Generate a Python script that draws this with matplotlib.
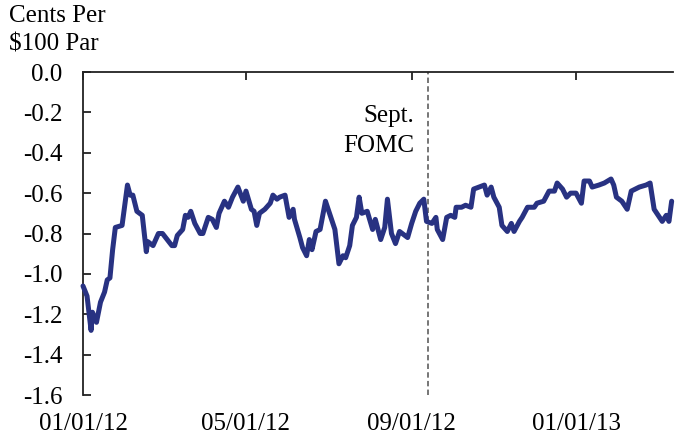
import numpy as np
import matplotlib
matplotlib.use('Agg')
import matplotlib.pyplot as plt

plt.rcParams['font.family'] = ['Liberation Serif', 'DejaVu Serif']
plt.rcParams['text.parse_math'] = False

start_date = '2012-01-01'
day_offsets = [0, 3, 6, 7, 10, 13, 16, 18, 20, 22, 24, 29, 33, 35, 37, 40, 44, 47, 48, 52,
               56, 59, 66, 68, 70, 74, 76, 78, 80, 83, 87, 89, 93, 96, 99, 101, 105, 108, 111, 115,
               119, 121, 125, 127, 129, 131, 135, 139, 141, 144, 146, 150, 153, 156, 157, 161, 163, 166, 168, 170,
               173, 176, 180, 183, 187, 190, 193, 195, 198, 200, 203, 205, 207, 211, 215, 217, 221, 224, 226, 229,
               232, 235, 239, 241, 244, 247, 250, 253, 255, 259, 262, 263, 267, 270, 273, 276, 277, 281, 284, 288,
               290, 294, 298, 300, 303, 305, 309, 311, 315, 318, 320, 324, 326, 330, 335, 337, 342, 346, 350, 352,
               356, 359, 362, 366, 370, 372, 376, 378, 383, 387, 392, 394, 396, 400, 404, 407, 413, 418, 421, 424,
               427, 430, 433, 435, 437]
values = [-1.06, -1.11, -1.28, -1.19, -1.24, -1.14, -1.09, -1.03, -1.02, -0.88, -0.77, -0.76, -0.56, -0.61, -0.61, -0.69, -0.71, -0.89, -0.84, -0.86,
          -0.80, -0.80, -0.86, -0.86, -0.81, -0.78, -0.71, -0.72, -0.69, -0.75, -0.80, -0.80, -0.72, -0.73, -0.77, -0.70, -0.64, -0.67, -0.62, -0.57,
          -0.64, -0.59, -0.68, -0.69, -0.76, -0.70, -0.68, -0.65, -0.61, -0.63, -0.62, -0.61, -0.72, -0.68, -0.73, -0.82, -0.87, -0.91, -0.83, -0.88,
          -0.79, -0.78, -0.64, -0.70, -0.78, -0.95, -0.91, -0.92, -0.86, -0.76, -0.72, -0.62, -0.70, -0.69, -0.78, -0.73, -0.83, -0.77, -0.63, -0.80,
          -0.85, -0.79, -0.81, -0.82, -0.75, -0.69, -0.65, -0.63, -0.74, -0.75, -0.72, -0.78, -0.83, -0.72, -0.71, -0.72, -0.67, -0.67, -0.66, -0.67,
          -0.58, -0.57, -0.56, -0.61, -0.57, -0.62, -0.67, -0.76, -0.79, -0.75, -0.79, -0.74, -0.72, -0.67, -0.67, -0.65, -0.64, -0.59, -0.59, -0.55,
          -0.58, -0.62, -0.60, -0.60, -0.65, -0.54, -0.54, -0.57, -0.56, -0.55, -0.53, -0.56, -0.62, -0.64, -0.68, -0.59, -0.57, -0.56, -0.55, -0.68,
          -0.71, -0.74, -0.71, -0.74, -0.64]
fomc_date = '2012-09-13'
x_end_offset = 438
xtick_dates = ['2012-01-01', '2012-05-01', '2012-09-01', '2013-01-01']
xtick_labels = ['01/01/12', '05/01/12', '09/01/12', '01/01/13']
ytick_values = [0.0, -0.2, -0.4, -0.6, -0.8, -1.0, -1.2, -1.4, -1.6]
ytick_labels = ['0.0', '-0.2', '-0.4', '-0.6', '-0.8', '-1.0', '-1.2', '-1.4', '-1.6']

W, H = 675, 442
fig = plt.figure(figsize=(W / 100, H / 100), dpi=100)
ax = fig.add_axes([83 / W, 1 - 395 / H, 590 / W, 323 / H])

start = np.datetime64(start_date)
dates = start + np.array(day_offsets).astype('timedelta64[D]')
ax.plot(dates, values, color='#283282', lw=3.6, solid_joinstyle='round', solid_capstyle='round',
        zorder=3, clip_on=False)

ax.axvline(np.datetime64(fomc_date), color='#6b6b6b', lw=1.3, ls=(0, (3, 1.8)), zorder=2)

ax.set_xlim(start, start + np.timedelta64(x_end_offset, 'D'))
ax.set_ylim(-1.6, 0.0)
ax.set_xticks([np.datetime64(d) for d in xtick_dates])
ax.set_xticklabels(xtick_labels)
ax.set_yticks(ytick_values)
ax.set_yticklabels(ytick_labels)

for s in ['bottom', 'right']:
    ax.spines[s].set_visible(False)
for s in ['top', 'left']:
    ax.spines[s].set_linewidth(1.3)
    ax.spines[s].set_color('#222222')

ax.tick_params(axis='x', direction='in', top=True, bottom=False, labeltop=False, labelbottom=True,
               length=6, width=1.3, color='#222222', pad=13, labelsize=18)
ax.tick_params(axis='y', direction='in', left=True, right=False, length=6, width=1.3,
               color='#222222', pad=15, labelsize=18)

fig.text(9 / W, 1 - 16 / H, 'Cents Per', fontsize=18, ha='left', va='center')
fig.text(9 / W, 1 - 45 / H, '$100 Par', fontsize=18, ha='left', va='center')
fig.text(414 / W, 1 - 116 / H, 'Sept.', fontsize=18, ha='right', va='center')
fig.text(414 / W, 1 - 146 / H, 'FOMC', fontsize=18, ha='right', va='center')

fig.savefig('out.png', dpi=100)
